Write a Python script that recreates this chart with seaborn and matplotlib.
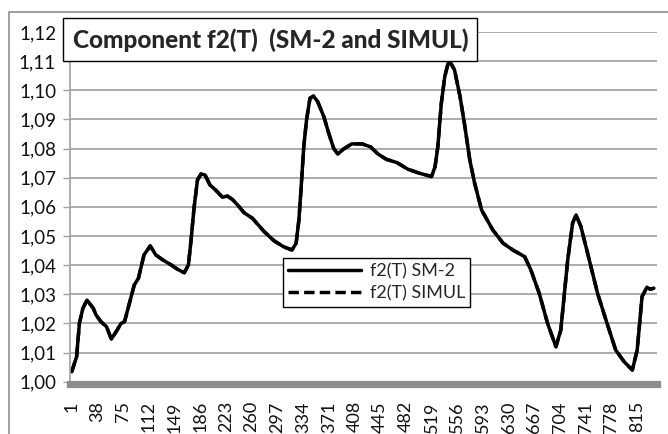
import pandas as pd
import seaborn as sns
import matplotlib.pyplot as plt
from matplotlib.patches import Rectangle
from matplotlib.ticker import FuncFormatter

# Values (T index, f2 value)
t_values = [1, 8, 12, 17, 23, 32, 36, 43, 51, 58, 65, 72, 77, 84, 91, 97, 105, 114,
            122, 132, 144, 153, 163, 169, 173, 177, 182, 187, 193, 200, 208, 218, 225,
            232, 240, 249, 261, 278, 292, 306, 318, 324, 328, 331, 335, 339, 344, 349,
            355, 364, 371, 378, 384, 392, 404, 419, 431, 442, 454, 469, 485, 502, 519,
            524, 528, 533, 538, 544, 552, 560, 567, 574, 581, 591, 607, 622, 636, 653,
            662, 674, 686, 698, 705, 715, 722, 727, 734, 746, 758, 770, 784, 796, 808,
            815, 822, 829, 834, 839]
f2_sm2 = [1.0034, 1.0086, 1.0200, 1.0252, 1.0280, 1.0252, 1.0229, 1.0206, 1.0189, 1.0146,
          1.0172, 1.0200, 1.0206, 1.0269, 1.0332, 1.0355, 1.0435, 1.0466, 1.0435, 1.0418,
          1.0401, 1.0386, 1.0374, 1.0401, 1.0492, 1.0595, 1.0692, 1.0713, 1.0709, 1.0675,
          1.0658, 1.0633, 1.0637, 1.0626, 1.0606, 1.0580, 1.0561, 1.0515, 1.0484, 1.0463,
          1.0452, 1.0475, 1.0555, 1.0658, 1.0806, 1.0898, 1.0973, 1.0980, 1.0961, 1.0909,
          1.0852, 1.0801, 1.0781, 1.0798, 1.0816, 1.0816, 1.0806, 1.0781, 1.0763, 1.0752,
          1.0729, 1.0715, 1.0704, 1.0738, 1.0806, 1.0955, 1.1047, 1.1104, 1.1070, 1.0978,
          1.0875, 1.0761, 1.0681, 1.0589, 1.0521, 1.0475, 1.0452, 1.0429, 1.0383, 1.0303,
          1.0200, 1.0120, 1.0177, 1.0418, 1.0544, 1.0572, 1.0532, 1.0418, 1.0303, 1.0212,
          1.0109, 1.0069, 1.0040, 1.0109, 1.0292, 1.0324, 1.0317, 1.0321]
# SIMUL curve lies on top of SM-2 everywhere in the picture
f2_simul = [1.0034, 1.0086, 1.0200, 1.0252, 1.0280, 1.0252, 1.0229, 1.0206, 1.0189, 1.0146,
            1.0172, 1.0200, 1.0206, 1.0269, 1.0332, 1.0355, 1.0435, 1.0466, 1.0435, 1.0418,
            1.0401, 1.0386, 1.0374, 1.0401, 1.0492, 1.0595, 1.0692, 1.0713, 1.0709, 1.0675,
            1.0658, 1.0633, 1.0637, 1.0626, 1.0606, 1.0580, 1.0561, 1.0515, 1.0484, 1.0463,
            1.0452, 1.0475, 1.0555, 1.0658, 1.0806, 1.0898, 1.0973, 1.0980, 1.0961, 1.0909,
            1.0852, 1.0801, 1.0781, 1.0798, 1.0816, 1.0816, 1.0806, 1.0781, 1.0763, 1.0752,
            1.0729, 1.0715, 1.0704, 1.0738, 1.0806, 1.0955, 1.1047, 1.1104, 1.1070, 1.0978,
            1.0875, 1.0761, 1.0681, 1.0589, 1.0521, 1.0475, 1.0452, 1.0429, 1.0383, 1.0303,
            1.0200, 1.0120, 1.0177, 1.0418, 1.0544, 1.0572, 1.0532, 1.0418, 1.0303, 1.0212,
            1.0109, 1.0069, 1.0040, 1.0109, 1.0292, 1.0324, 1.0317, 1.0321]
series_names = ['f2(T) SM-2', 'f2(T) SIMUL']
x_ticks = [1, 38, 75, 112, 149, 186, 223, 260, 297, 334, 371, 408, 445, 482, 519,
           556, 593, 630, 667, 704, 741, 778, 815]
y_ticks = [1.00, 1.01, 1.02, 1.03, 1.04, 1.05, 1.06, 1.07, 1.08, 1.09, 1.10, 1.11, 1.12]

df = pd.concat([
    pd.DataFrame({'T': t_values, 'f2': f2_sm2, 'series': series_names[0]}),
    pd.DataFrame({'T': t_values, 'f2': f2_simul, 'series': series_names[1]}),
])

sns.set_theme(style='white')
plt.rcParams['font.family'] = ['Lato', 'DejaVu Sans']

fig, ax = plt.subplots(figsize=(6.68, 4.34), dpi=100)
fig.subplots_adjust(left=0.1048, right=0.983, top=0.9263, bottom=0.1205)

sns.lineplot(data=df, x='T', y='f2', hue='series', style='series',
             hue_order=series_names, style_order=series_names,
             palette=['black', 'black'], dashes=[(None, None), (3, 1.5)],
             linewidth=2.5, estimator=None, sort=False, ax=ax)

ax.set_xlim(-1.5, 843)
ax.set_ylim(1.0, 1.12)
ax.set_xticks(x_ticks)
ax.set_xticklabels([str(t) for t in x_ticks])
ax.set_yticks(y_ticks)
ax.yaxis.set_major_formatter(FuncFormatter(lambda v, p: f'{v:.2f}'.replace('.', ',')))
ax.tick_params(axis='y', labelsize=13.5, length=5, width=1, color='#a0a0a0',
               pad=5, left=True, labelcolor='#111111')
ax.tick_params(axis='x', labelsize=13, labelrotation=90, length=0, pad=12,
               labelcolor='#111111')
ax.set_xlabel('')
ax.set_ylabel('')

ax.grid(axis='y', color='#a6a6a6', linewidth=1.3)
ax.grid(axis='x', visible=False)
ax.set_axisbelow(True)
for side in ['top', 'right']:
    ax.spines[side].set_visible(False)
ax.spines['left'].set_color('#a0a0a0')
ax.spines['left'].set_linewidth(1.2)
ax.spines['bottom'].set_color('#8c8c8c')
ax.spines['bottom'].set_linewidth(5.2)
ax.spines['bottom'].set_position(('outward', 2))

leg = ax.legend(loc='upper left', bbox_to_anchor=(283 / 668, 1 - 258 / 434),
                bbox_transform=fig.transFigure, fontsize=13, handlelength=4.0,
                frameon=True, fancybox=False, edgecolor='black', framealpha=1,
                borderpad=0.3, labelspacing=0.3, handletextpad=0.5, borderaxespad=0)
leg.get_frame().set_linewidth(1.0)
for line in leg.get_lines():
    line.set_linewidth(2.5)

# chart border
fig.add_artist(Rectangle((9 / 668, -0.1), 1.2, 1.1 - 12 / 434, transform=fig.transFigure,
                         fill=False, edgecolor='#909090', linewidth=1.2))

# title box
fig.add_artist(Rectangle((63 / 668, 1 - 61 / 434), 414 / 668, 43 / 434,
                         transform=fig.transFigure, facecolor='white',
                         edgecolor='black', linewidth=1.0, zorder=5))
fig.text(271 / 668, 1 - 40 / 434, 'Component f2(T)  (SM-2 and SIMUL)',
         ha='center', va='center', fontsize=17.5, fontweight='black', zorder=6)

fig.savefig('out.png', dpi=100)
